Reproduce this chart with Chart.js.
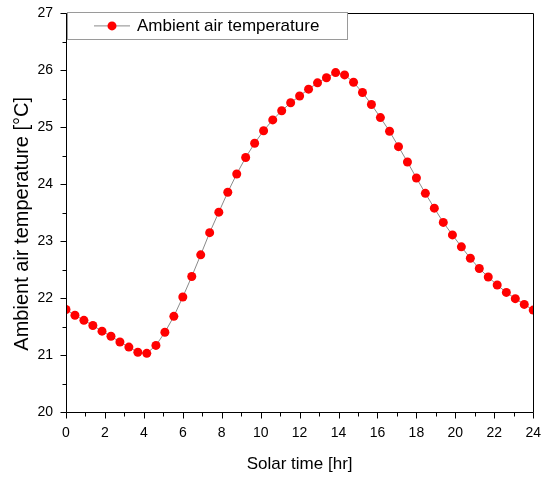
<!DOCTYPE html>
<html>
<head>
<meta charset="utf-8">
<script src="https://cdn.jsdelivr.net/npm/chart.js@4.4.0/dist/chart.umd.min.js"></script>
<style>
  html, body { margin: 0; padding: 0; background: #fff; }
  #wrap { width: 546px; height: 477px; }
</style>
</head>
<body>
<div id="wrap"><canvas id="chart"></canvas></div>
<script>
// solar time (hr) and ambient air temperature (degC)
const times = [0.00, 0.46, 0.92, 1.38, 1.85, 2.31, 2.77, 3.23, 3.69, 4.15,
    4.62, 5.08, 5.54, 6.00, 6.46, 6.92, 7.38, 7.85, 8.31, 8.77,
    9.23, 9.69, 10.15, 10.62, 11.08, 11.54, 12.00, 12.46, 12.92, 13.38,
    13.85, 14.31, 14.77, 15.23, 15.69, 16.15, 16.62, 17.08, 17.54, 18.00,
    18.46, 18.92, 19.38, 19.85, 20.31, 20.77, 21.23, 21.69, 22.15, 22.62,
    23.08, 23.54, 24.00];
const temps = [21.80, 21.70, 21.61, 21.52, 21.42, 21.33, 21.23, 21.14, 21.05, 21.03,
    21.17, 21.40, 21.68, 22.02, 22.38, 22.76, 23.15, 23.51, 23.86, 24.18,
    24.47, 24.72, 24.94, 25.13, 25.29, 25.43, 25.55, 25.67, 25.78, 25.87,
    25.96, 25.92, 25.79, 25.61, 25.40, 25.17, 24.93, 24.66, 24.39, 24.11,
    23.84, 23.58, 23.33, 23.11, 22.90, 22.70, 22.52, 22.37, 22.23, 22.10,
    21.99, 21.89, 21.79];
const xTicks = [0, 2, 4, 6, 8, 10, 12, 14, 16, 18, 20, 22, 24];
const yTicks = [20, 21, 22, 23, 24, 25, 26, 27];
const seriesLabel = 'Ambient air temperature';
const xTitle = 'Solar time [hr]';
const yTitle = 'Ambient air temperature [\u00B0C]    ';

const FONT = '"Liberation Sans", Arial, sans-serif';

// frame plus major / minor tick marks
const frameTicks = {
    id: 'frameTicks',
    afterDraw(chart) {
        const ctx = chart.ctx;
        const a = chart.chartArea;
        const xs = chart.scales.x, ys = chart.scales.y;
        ctx.save();
        ctx.strokeStyle = '#000';
        ctx.lineWidth = 1;
        ctx.beginPath();
        ctx.rect(Math.round(a.left) + 0.5, Math.round(a.top) + 0.5,
            Math.round(a.right - a.left), Math.round(a.bottom - a.top));
        ctx.stroke();

        ctx.beginPath();
        const b = Math.round(a.bottom) + 0.5;
        for (let v = xTicks[0]; v <= xTicks[xTicks.length - 1]; v += 1) {
            const px = Math.round(xs.getPixelForValue(v)) + 0.5;
            const len = xTicks.includes(v) ? 6 : 4;
            ctx.moveTo(px, b);
            ctx.lineTo(px, b + len);
        }
        const l = Math.round(a.left) + 0.5;
        for (let v = yTicks[0]; v <= yTicks[yTicks.length - 1]; v += 0.5) {
            const py = Math.round(ys.getPixelForValue(v)) + 0.5;
            const len = yTicks.includes(v) ? 6 : 4;
            ctx.moveTo(l, py);
            ctx.lineTo(l - len, py);
        }
        ctx.stroke();
        ctx.restore();
    }
};

// boxed legend sitting inside the plot, top left
const boxLegend = {
    id: 'boxLegend',
    afterDraw(chart) {
        const ctx = chart.ctx;
        const a = chart.chartArea;
        const ds = chart.data.datasets[0];
        const x = a.left + 1, y = a.top - 1.5, w = 280, h = 27;
        ctx.save();
        ctx.fillStyle = '#fff';
        ctx.fillRect(x, y, w, h);
        ctx.strokeStyle = '#9a9a9a';
        ctx.lineWidth = 1;
        ctx.strokeRect(Math.round(x) + 0.5, Math.round(y) + 0.5, w, h);

        const cy = y + h / 2 + 0.5;
        ctx.strokeStyle = ds.borderColor;
        ctx.beginPath();
        ctx.moveTo(x + 27, cy);
        ctx.lineTo(x + 63, cy);
        ctx.stroke();
        ctx.fillStyle = ds.pointBackgroundColor;
        ctx.beginPath();
        ctx.arc(x + 45, cy, ds.pointRadius, 0, Math.PI * 2);
        ctx.fill();

        ctx.fillStyle = '#000';
        ctx.font = '17px ' + FONT;
        ctx.textBaseline = 'middle';
        ctx.textAlign = 'left';
        ctx.fillText(ds.label, x + 70, cy);
        ctx.restore();
    }
};

const ctx = document.getElementById('chart').getContext('2d');
new Chart(ctx, {
    type: 'line',
    data: {
        datasets: [{
            label: seriesLabel,
            data: times.map((t, i) => ({ x: t, y: temps[i] })),
            borderColor: '#8a8a8a',
            borderWidth: 1,
            pointRadius: 4.5,
            pointBackgroundColor: '#ff0000',
            pointBorderColor: '#ff0000',
            pointBorderWidth: 0,
            pointHoverRadius: 4.5,
            tension: 0
        }]
    },
    options: {
        responsive: true,
        maintainAspectRatio: false,
        animation: false,
        events: [],
        layout: { padding: { top: 10, right: 11, left: 0, bottom: 0 } },
        plugins: {
            legend: { display: false },
            tooltip: { enabled: false }
        },
        scales: {
            x: {
                type: 'linear',
                min: xTicks[0],
                max: xTicks[xTicks.length - 1],
                grid: { display: false },
                border: { display: false },
                ticks: {
                    stepSize: 2,
                    autoSkip: false,
                    maxRotation: 0,
                    padding: 5,
                    color: '#000',
                    font: { family: FONT, size: 14 }
                },
                title: {
                    display: true,
                    text: xTitle,
                    color: '#000',
                    font: { family: FONT, size: 17 },
                    padding: { top: 4, bottom: 2 }
                },
                afterFit(scale) { scale.height = 65; }
            },
            y: {
                type: 'linear',
                min: yTicks[0],
                max: yTicks[yTicks.length - 1],
                grid: { display: false },
                border: { display: false },
                ticks: {
                    stepSize: 1,
                    autoSkip: false,
                    padding: 5,
                    color: '#000',
                    font: { family: FONT, size: 14 }
                },
                title: {
                    display: true,
                    text: yTitle,
                    color: '#000',
                    font: { family: FONT, size: 20 },
                    padding: { top: 10, bottom: 4 }
                },
                afterFit(scale) { scale.width = 66; }
            }
        }
    },
    plugins: [frameTicks, boxLegend]
});
</script>
</body>
</html>
